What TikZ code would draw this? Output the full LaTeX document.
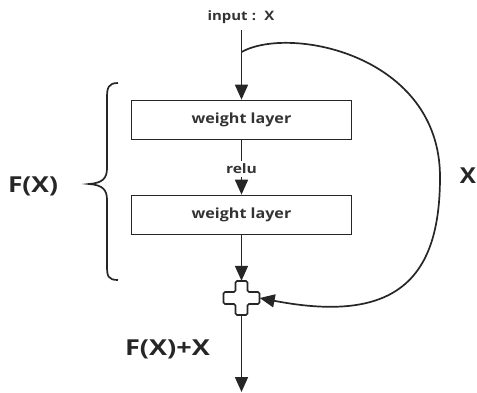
\documentclass[tikz,border=0pt]{standalone}
\usepackage{graphicx}
\usepackage{fontspec}
\setmainfont{Open Sans}
\usetikzlibrary{arrows.meta,calc}
\newcommand{\widetext}[2]{\scalebox{#1}[1]{#2}}
\begin{document}
\begin{tikzpicture}[x=1pt,y=-1pt,
  conn/.style={line width=1.7pt,draw=black!85},
  arr/.style={conn,-{Triangle[width=13pt,length=15pt]}},
  layerbox/.style={draw=black!85,line width=1.7pt,minimum width=220pt,minimum height=39pt,inner sep=0pt,font=\bfseries\fontsize{14}{16}\selectfont,text=black!80},
  smalllbl/.style={font=\bfseries\fontsize{13}{15}\selectfont,inner sep=1pt,text=black!80},
  biglbl/.style={font=\bfseries\fontsize{22}{24}\selectfont,inner sep=0pt,text=black!85}]
\useasboundingbox (0,0) rectangle (477,392);
\node[smalllbl] (input) at (241,17) {\widetext{1.15}{input\;:\;\;X}};
\coordinate (skip) at (241.5,52);
\node[layerbox] (w1) at (241.5,120) {\widetext{1.15}{weight layer}};
\node[smalllbl,fill=white,inner sep=3pt] (relu) at (241.5,169) {\widetext{1.2}{relu}};
\node[layerbox] (w2) at (241.5,215) {\widetext{1.15}{weight layer}};
\node[minimum width=36pt,minimum height=34pt,inner sep=0pt] (plus) at (241.5,298) {};
\coordinate (out) at (241.5,392);
\node[biglbl] (fx) at (33,186) {\widetext{1.2}{F(X)}};
\node[biglbl] (xl) at (468,176) {\widetext{1.1}{X}};
\node[biglbl] (fxx) at (167.5,349) {\widetext{1.23}{F(X)+X}};
% plus sign
\begin{scope}[shift={(plus.center)}]
\draw[conn,rounded corners=1.5pt] (-6,-17) -- (6,-17) -- (6,-6) -- (18,-6) -- (18,6) -- (6,6) -- (6,17) -- (-6,17) -- (-6,6) -- (-18,6) -- (-18,-6) -- (-6,-6) -- cycle;
\end{scope}
% main path
\draw[arr] (241.5,30) -- (w1.north);
\draw[conn] (w1.south) -- (relu.north);
\draw[arr] (relu.south) -- (w2.north);
\draw[arr] (w2.south) -- (plus.north);
\draw[arr] (plus.south) -- (out);
% skip connection
\draw[arr] (skip) .. controls (290,25) and (440,55) .. (440,177)
  .. controls (440,275) and (400,325) .. (plus.east);
% brace
\draw[conn] (118,83) .. controls (108,83) and (107,88) .. (107,98) -- (107,168)
  .. controls (107,178) and (103,183) .. (89,184)
  .. controls (103,185) and (107,190) .. (107,200) -- (107,266)
  .. controls (107,276) and (108,280) .. (118,280);
\end{tikzpicture}
\end{document}
